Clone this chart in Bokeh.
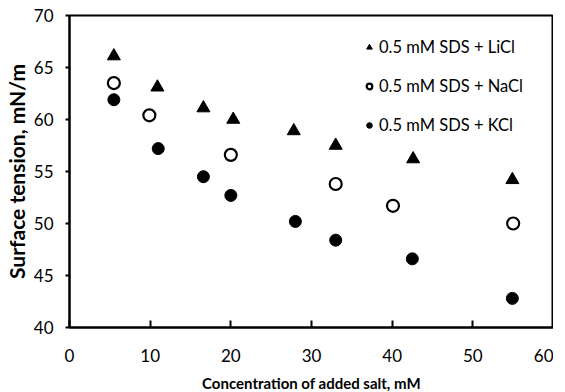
from bokeh.plotting import figure
from bokeh.models import Range1d, Legend, LegendItem, FixedTicker
from bokeh.embed import file_html
from bokeh.resources import INLINE

# Data
licl_x = [5.5, 10.9, 16.6, 20.3, 27.8, 33.0, 42.6, 54.9]
licl_y = [66.1, 63.1, 61.1, 60.0, 58.9, 57.5, 56.2, 54.2]
nacl_x = [5.5, 9.9, 20.0, 33.0, 40.1, 55.0]
nacl_y = [63.5, 60.4, 56.6, 53.8, 51.7, 50.0]
kcl_x = [5.5, 11.0, 16.6, 20.0, 28.0, 33.0, 42.5, 54.9]
kcl_y = [61.9, 57.2, 54.5, 52.7, 50.2, 48.4, 46.6, 42.8]
x_ticks = [0, 10, 20, 30, 40, 50, 60]
y_ticks = [40, 45, 50, 55, 60, 65, 70]
labels = ["0.5 mM SDS + LiCl", "0.5 mM SDS + NaCl", "0.5 mM SDS + KCl"]
x_title = "Concentration of added salt, mM"
y_title = "Surface tension, mN/m"

FONT = "Lato"

p = figure(frame_width=484, frame_height=312, output_backend="svg",
           toolbar_location=None, x_range=Range1d(0, 60), y_range=Range1d(40, 70),
           min_border_left=69, min_border_top=15, min_border_right=0, min_border_bottom=64)

p.background_fill_color = "white"
p.border_fill_color = "white"
p.outline_line_color = "black"
p.outline_line_width = 2
p.xgrid.visible = False
p.ygrid.visible = False

r1 = p.scatter(licl_x, licl_y, marker="triangle", size=13, fill_color="black", line_color="black")
r2 = p.scatter(nacl_x, nacl_y, marker="circle", size=12, fill_color="white", line_color="black", line_width=2.2)
r3 = p.scatter(kcl_x, kcl_y, marker="circle", size=12, fill_color="black", line_color="black")

for ax in (p.xaxis[0], p.yaxis[0]):
    ax.axis_line_color = "black"
    ax.axis_line_width = 2
    ax.major_tick_line_color = "black"
    ax.major_tick_line_width = 2
    ax.minor_tick_line_color = None
    ax.major_label_text_font = FONT
    ax.major_label_text_font_size = "17px"
    ax.major_label_text_color = "black"
    ax.axis_label_text_font = FONT
    ax.axis_label_text_font_style = "bold"
    ax.axis_label_text_color = "black"

p.xaxis.ticker = FixedTicker(ticks=x_ticks)
p.yaxis.ticker = FixedTicker(ticks=y_ticks)
p.xaxis.major_tick_in = 7
p.xaxis.major_tick_out = 0
p.yaxis.major_tick_in = 0
p.yaxis.major_tick_out = 4
p.xaxis.major_label_standoff = 21
p.yaxis.major_label_standoff = 12
p.xaxis.axis_label = x_title
p.xaxis.axis_label_text_font_size = "15px"
p.xaxis.axis_label_standoff = 9
p.yaxis.axis_label = y_title
p.yaxis.axis_label_text_font_size = "21px"
p.yaxis.axis_label_standoff = 2

legend = Legend(items=[LegendItem(label=labels[0], renderers=[r1]),
                       LegendItem(label=labels[1], renderers=[r2]),
                       LegendItem(label=labels[2], renderers=[r3])],
                location=(293, 192))
legend.background_fill_alpha = 0
legend.border_line_color = None
legend.label_text_font = FONT
legend.label_text_font_size = "16.5px"
legend.label_text_color = "black"
legend.spacing = 19
legend.glyph_width = 14
legend.glyph_height = 20
legend.label_height = 20
legend.label_standoff = 3
legend.padding = 0
legend.margin = 0
p.add_layout(legend)

open("out.html", "w").write(file_html(p, INLINE))
